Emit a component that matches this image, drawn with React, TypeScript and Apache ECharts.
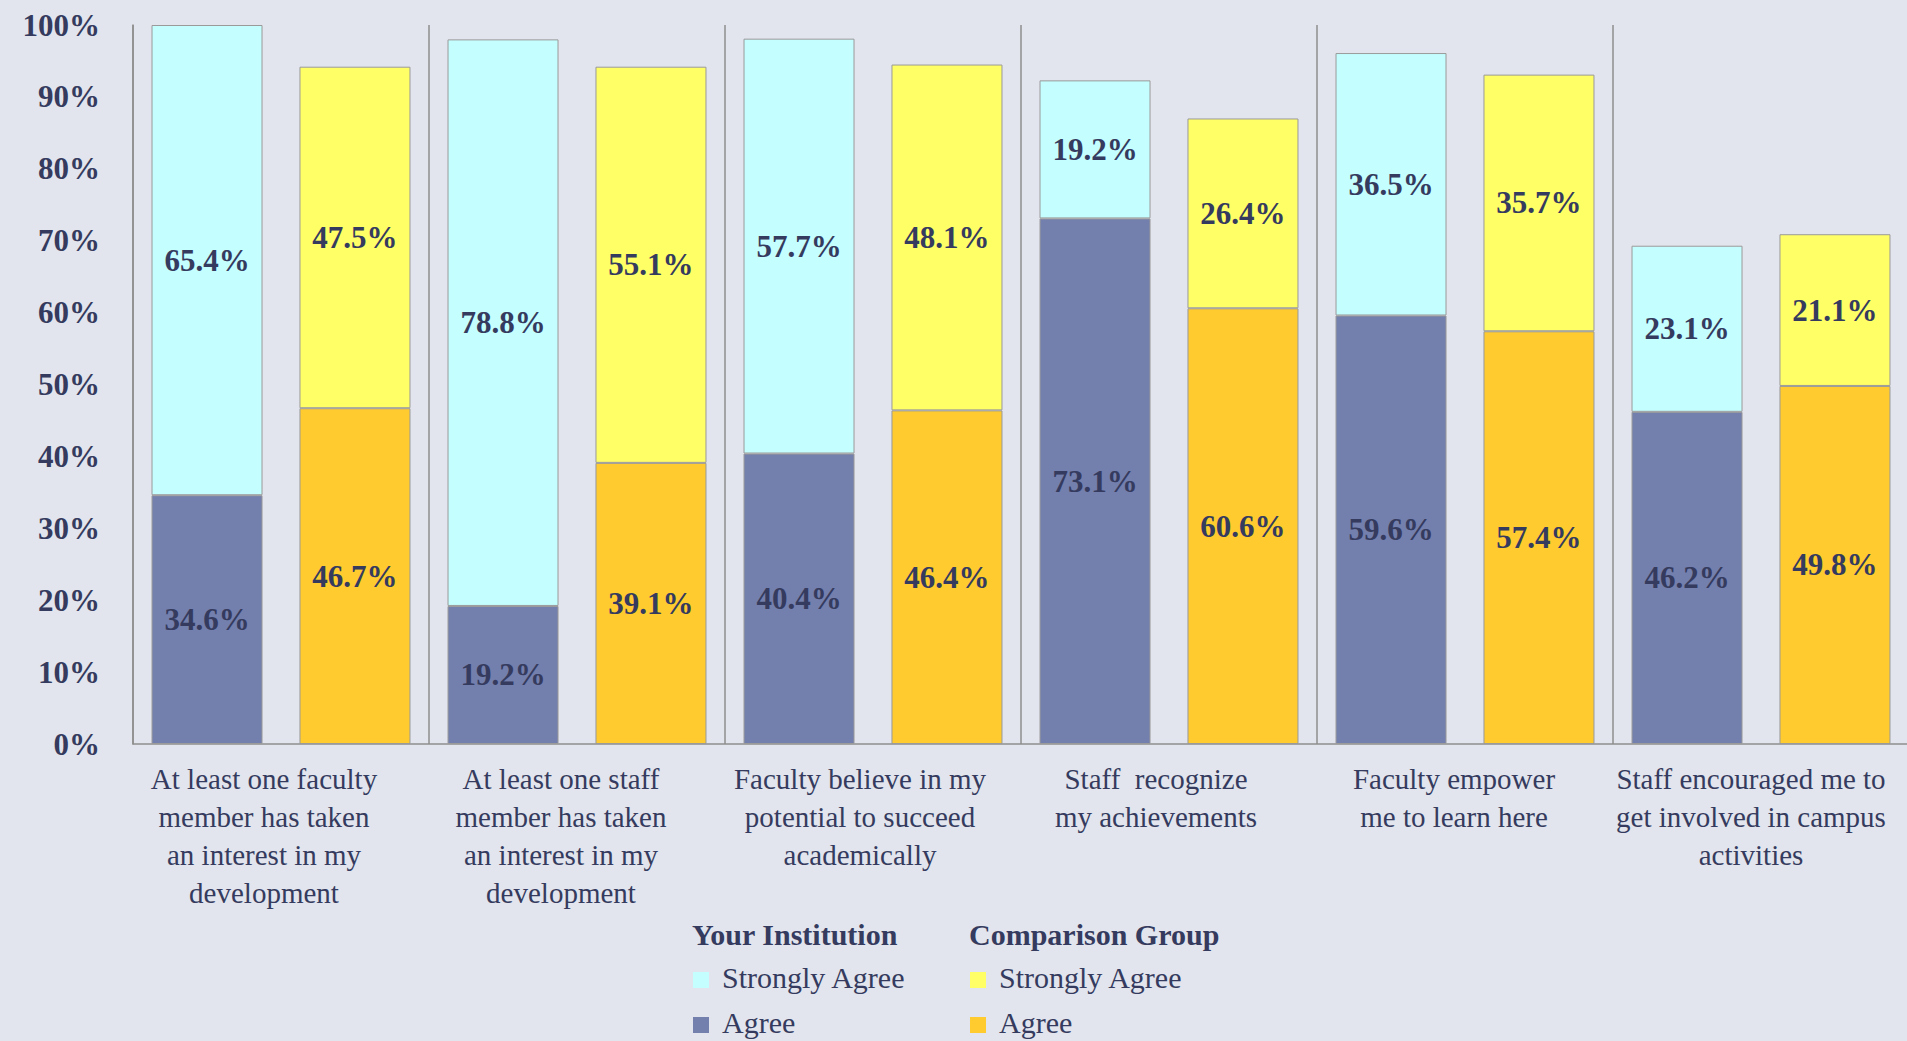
import React, { useEffect, useRef } from "react";
import * as echarts from "echarts";

const categories = [
  "At least one faculty\nmember has taken\nan interest in my\ndevelopment",
  "At least one staff\nmember has taken\nan interest in my\ndevelopment",
  "Faculty believe in my\npotential to succeed\nacademically",
  "Staff  recognize\nmy achievements",
  "Faculty empower\nme to learn here",
  "Staff encouraged me to\nget involved in campus\nactivities",
];
const yourAgree = [34.6, 19.2, 40.4, 73.1, 59.6, 46.2];
const yourStrongly = [65.4, 78.8, 57.7, 19.2, 36.5, 23.1];
const compAgree = [46.7, 39.1, 46.4, 60.6, 57.4, 49.8];
const compStrongly = [47.5, 55.1, 48.1, 26.4, 35.7, 21.1];

const legendGroups = ["Your Institution", "Comparison Group"];
const legendItems = ["Strongly Agree", "Agree"];

const FONT = "'Liberation Serif', 'Times New Roman', serif";
const TEXT = "#353B5E";
const C_YOUR_SA = "#C4FEFE";
const C_YOUR_A = "#737FAD";
const C_COMP_SA = "#FFFF66";
const C_COMP_A = "#FFCB2E";
const BG = "#E2E5ED";

// per-label horizontal nudge (label box right padding), layout only
const labelPadRight = [34, 32, 26, 26, 22, 20];

export default function App() {
  const ref = useRef<HTMLDivElement>(null);
  useEffect(() => {
    document.body.style.margin = "0";
    document.body.style.background = BG;
    const chart = echarts.init(ref.current!, null, { renderer: "svg" });
    const label = {
      show: true,
      position: "inside",
      fontFamily: FONT,
      fontSize: 31,
      fontWeight: "bold",
      color: TEXT,
      formatter: (p: any) => Number(p.value).toFixed(1) + "%",
    };
    const mk = (name: string, data: number[], stack: string, color: string) => ({
      type: "bar",
      name,
      stack,
      data,
      barWidth: "37.5%",
      barGap: "33.3%",
      itemStyle: { color, borderColor: "#9A9A9A", borderWidth: 1 },
      label,
    });
    const legendColors = [
      [C_YOUR_SA, C_YOUR_A],
      [C_COMP_SA, C_COMP_A],
    ];
    const colX = [692, 969];
    const rowY = [980, 1025];
    const graphics: any[] = [];
    legendGroups.forEach((g, gi) => {
      graphics.push({
        type: "text",
        left: colX[gi],
        top: 937 - 18,
        style: { text: g, fontFamily: FONT, fontSize: 30, fontWeight: "bold", fill: TEXT },
      });
      legendItems.forEach((it, ii) => {
        graphics.push({
          type: "rect",
          shape: { x: colX[gi] + 1, y: rowY[ii] - 8, width: 16, height: 16 },
          style: { fill: legendColors[gi][ii] },
        });
        graphics.push({
          type: "text",
          left: colX[gi] + 30,
          top: rowY[ii] - 18,
          style: { text: it, fontFamily: FONT, fontSize: 30, fill: TEXT },
        });
      });
    });
    chart.setOption({
      animation: false,
      backgroundColor: BG,
      grid: {
        left: 133,
        right: -2,
        top: 25,
        bottom: 297,
        containLabel: false,
        outerBoundsMode: "none",
      },
      xAxis: {
        type: "category",
        data: categories.map((c, i) => ({
          value: c,
          textStyle: { padding: [0, labelPadRight[i], 0, 0] },
        })),
        axisLine: { show: true, lineStyle: { color: "#8E8E8E", width: 1.5 } },
        axisTick: { show: false },
        splitLine: { show: true, lineStyle: { color: "#8E8E8E", width: 1.5 } },
        axisLabel: {
          interval: 0,
          fontFamily: FONT,
          fontSize: 29,
          lineHeight: 38,
          color: TEXT,
          margin: 16,
        },
      },
      yAxis: {
        type: "value",
        min: 0,
        max: 100,
        interval: 10,
        axisLine: { show: true, lineStyle: { color: "#8E8E8E", width: 1.5 } },
        axisTick: { show: false },
        splitLine: { show: false },
        axisLabel: {
          formatter: "{value}%",
          fontFamily: FONT,
          fontSize: 31,
          fontWeight: "bold",
          color: TEXT,
          margin: 33,
        },
      },
      series: [
        mk("Your Institution Agree", yourAgree, "your", C_YOUR_A),
        mk("Your Institution Strongly Agree", yourStrongly, "your", C_YOUR_SA),
        mk("Comparison Group Agree", compAgree, "comp", C_COMP_A),
        mk("Comparison Group Strongly Agree", compStrongly, "comp", C_COMP_SA),
      ],
      graphic: graphics,
    });
    return () => chart.dispose();
  }, []);
  return <div ref={ref} style={{ width: 1907, height: 1041 }} />;
}
